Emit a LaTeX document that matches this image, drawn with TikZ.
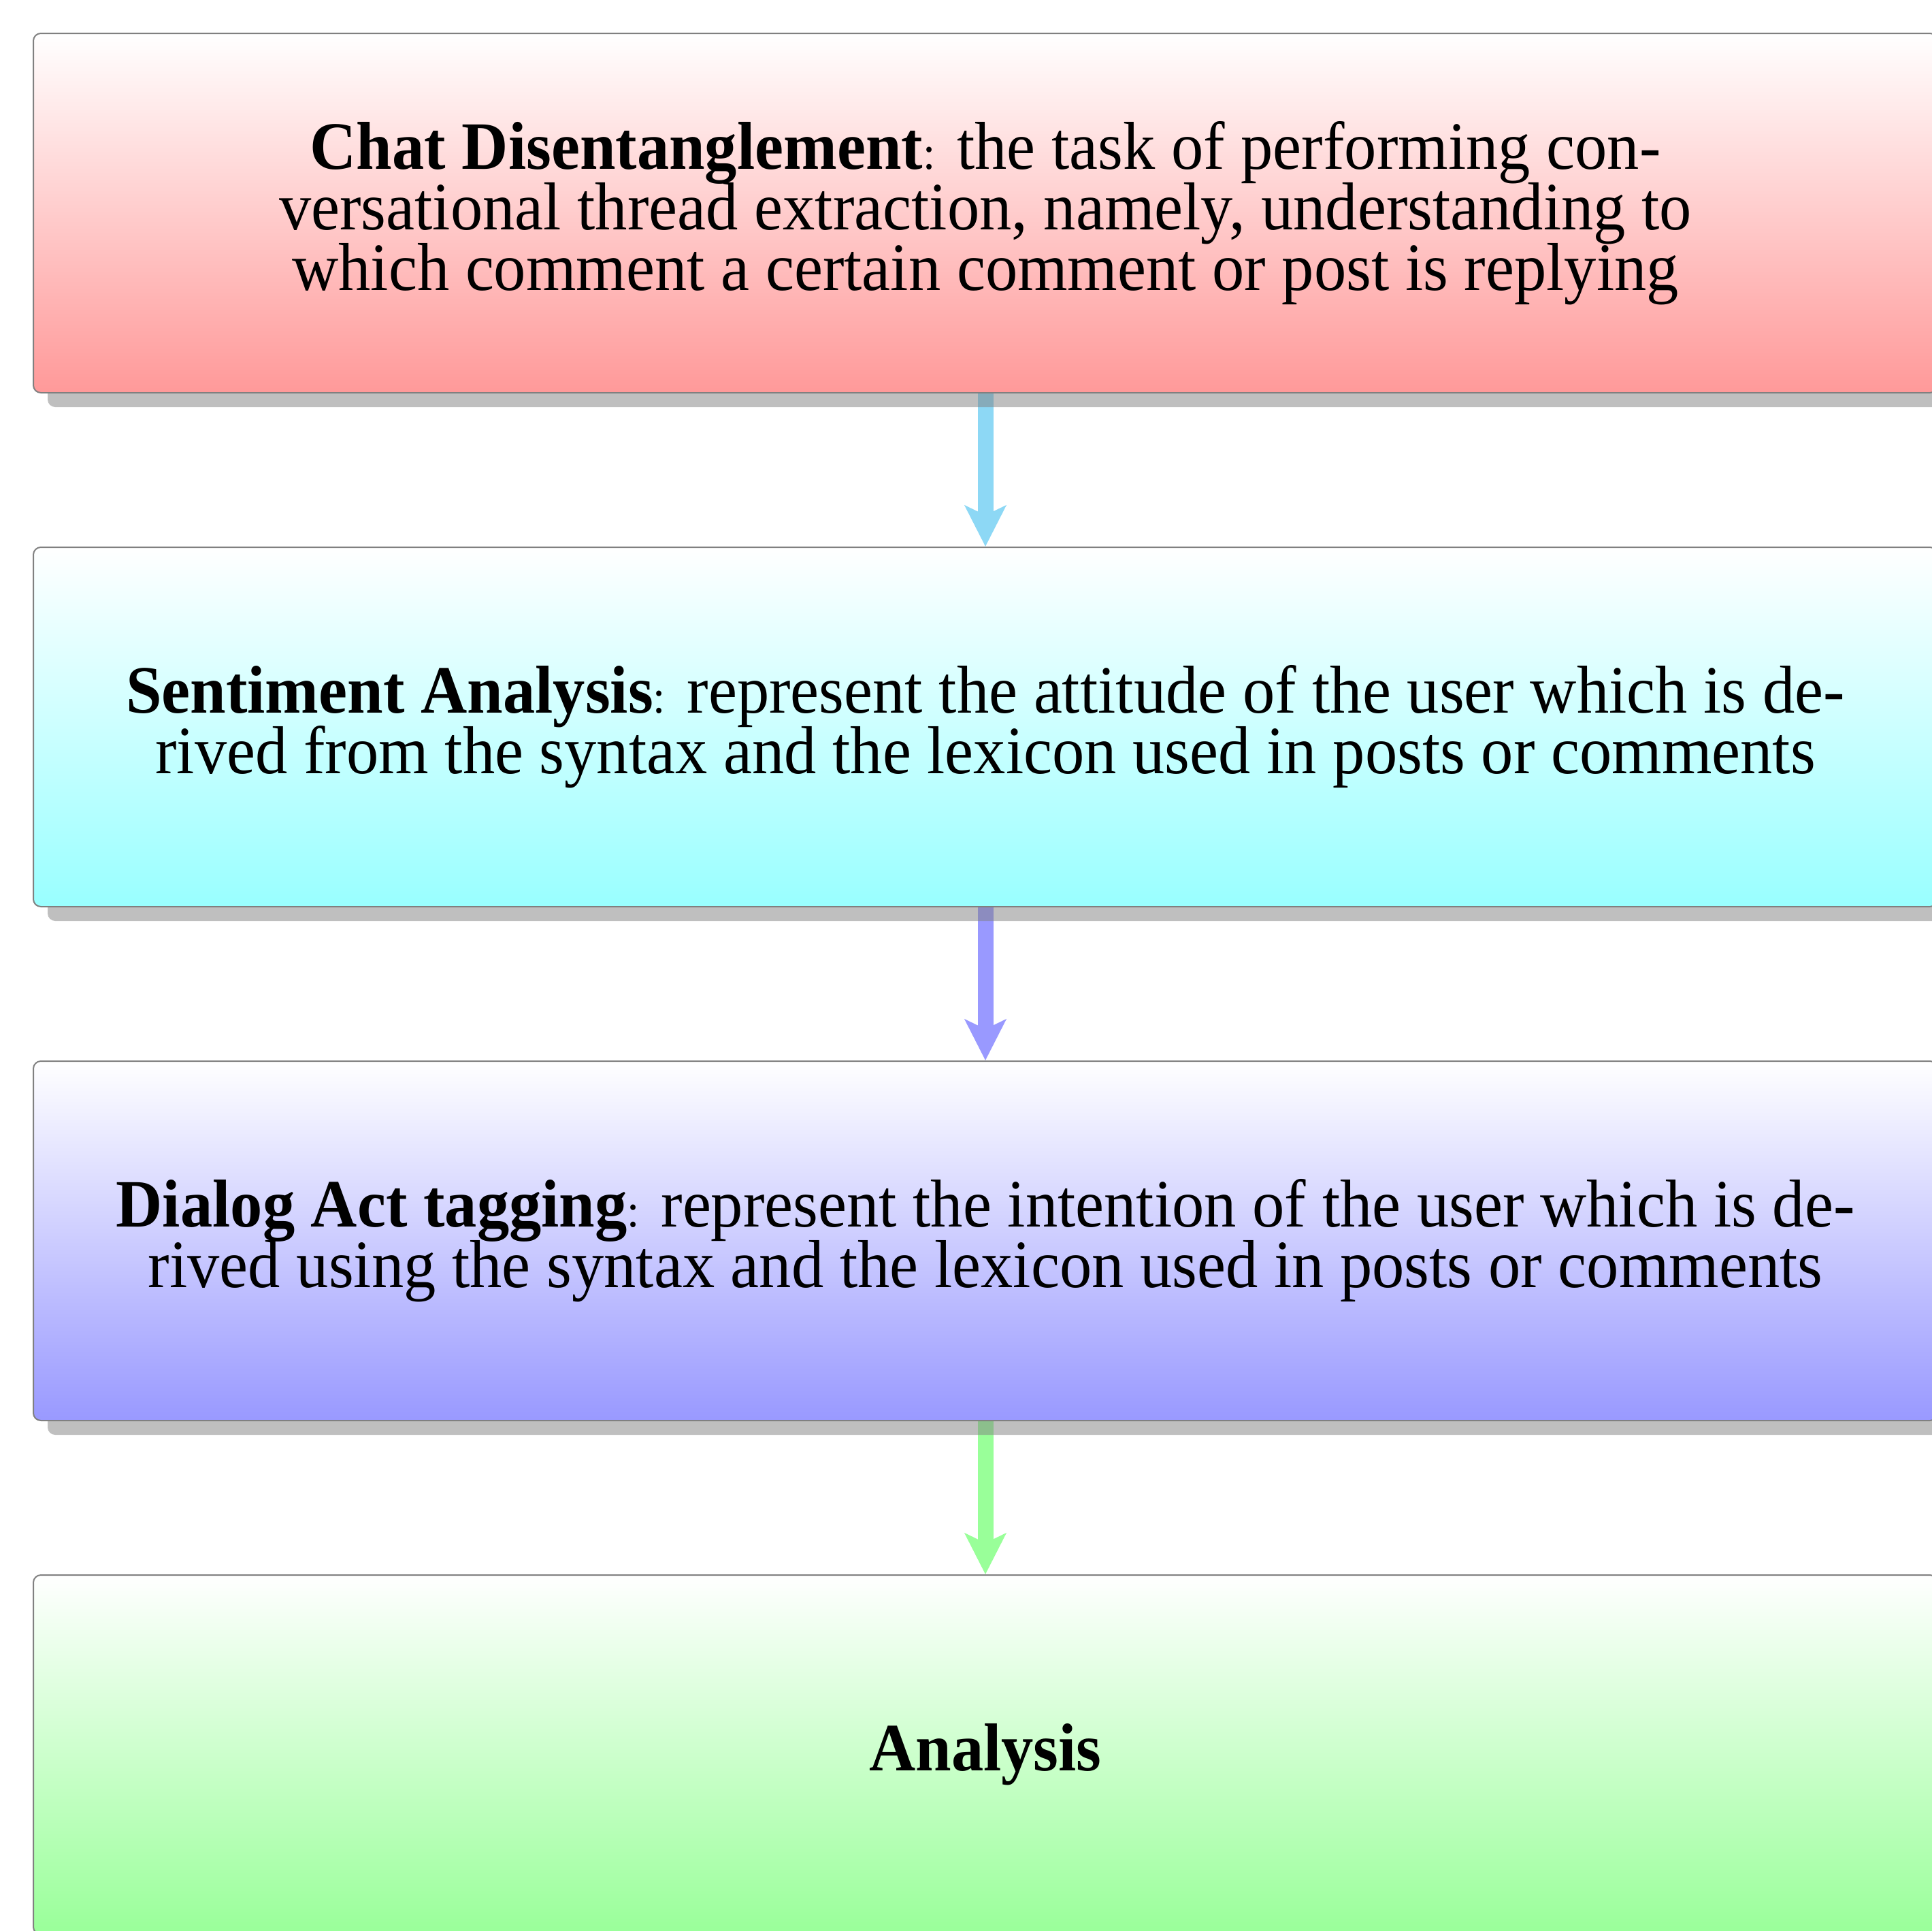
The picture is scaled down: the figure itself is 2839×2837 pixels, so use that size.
\documentclass[tikz,border=0pt]{standalone}
\usepackage{fontspec}
\setmainfont{Liberation Serif}[FakeStretch=0.95]
\usetikzlibrary{arrows.meta,shadows,backgrounds}
\AtBeginDocument{\lineskiplimit=-30pt\relax}
\definecolor{arrA}{RGB}{141,216,245}
\definecolor{arrB}{RGB}{153,153,255}
\definecolor{arrC}{RGB}{153,255,153}
\tikzset{
  stagebox/.style={draw=black!50, line width=0.5pt, rounded corners=2.75pt,
    minimum width=699.5pt, minimum height=132pt, inner sep=0pt,
    align=center, text=black,
    font=\fontsize{24.88pt}{22.25pt}\selectfont,
    drop shadow={shadow xshift=5.25pt, shadow yshift=-5.25pt}},
  flow/.style={line width=5.75pt, -{Stealth[length=15pt,width=15pt,inset=3.5pt]}},
}
\newcommand{\smallcolon}{{\fontsize{17.28pt}{17.28pt}\selectfont:}}
\begin{document}
\begin{tikzpicture}[x=0.25pt, y=-0.25pt]
\useasboundingbox (0,0) rectangle (2839,2837);
\node[stagebox, top color=white, bottom color=red!40] (b1) at (1448,313)
  {\textbf{Chat Disentanglement}\smallcolon{} the task of performing con-\\
   versational thread extraction, namely, understanding to\\
   which comment a certain comment or post is replying};
\node[stagebox, top color=white, bottom color=cyan!40] (b2) at (1448,1068)
  {\textbf{Sentiment Analysis}\smallcolon{} represent the attitude of the user which is de-\\
   rived from the syntax and the lexicon used in posts or comments};
\node[stagebox, top color=white, bottom color=blue!40] (b3) at (1448,1823)
  {\textbf{Dialog Act tagging}\smallcolon{} represent the intention of the user which is de-\\
   rived using the syntax and the lexicon used in posts or comments};
\node[stagebox, top color=white, bottom color=green!40] (b4) at (1448,2578)
  {\textbf{Analysis}};
\begin{scope}[on background layer]
\draw[flow, arrA] (b1.south) -- (b2.north);
\draw[flow, arrB] (b2.south) -- (b3.north);
\draw[flow, arrC] (b3.south) -- (b4.north);
\end{scope}
\end{tikzpicture}
\end{document}
